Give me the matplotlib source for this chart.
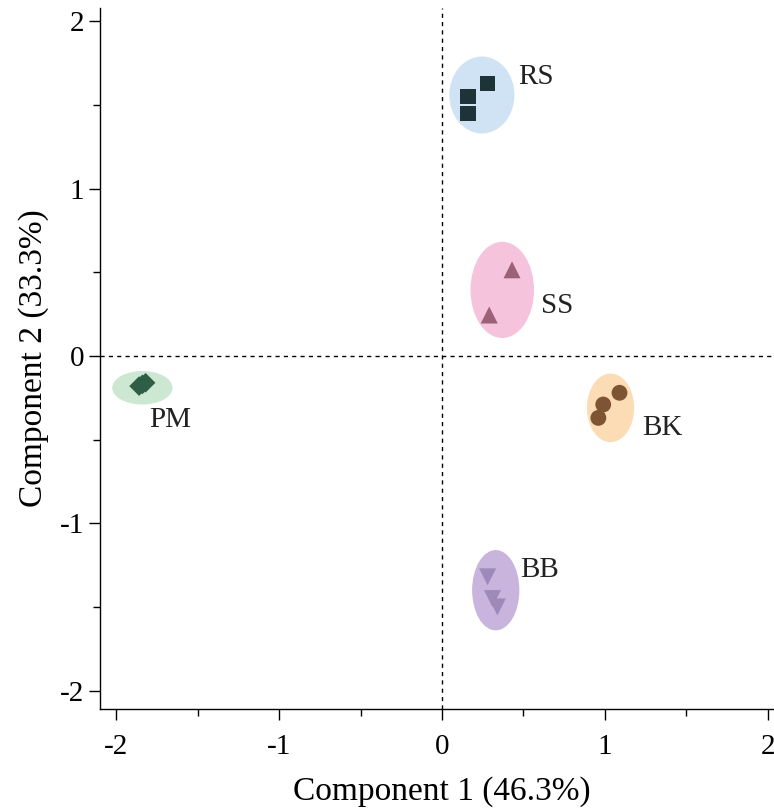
import numpy as np
import matplotlib
matplotlib.use("Agg")
import matplotlib.pyplot as plt
from matplotlib.patches import Ellipse
from matplotlib.ticker import MultipleLocator, FuncFormatter

plt.rcParams["font.family"] = ["Liberation Serif", "DejaVu Serif"]

# PCA scores per group
groups = ["RS", "SS", "PM", "BK", "BB"]
rs_x = [0.16, 0.16, 0.28]
rs_y = [1.55, 1.45, 1.63]
ss_x = [0.43, 0.29]
ss_y = [0.515, 0.245]
pm_x = [-1.82, -1.86, -1.84]
pm_y = [-0.16, -0.18, -0.17]
bk_x = [1.09, 0.99, 0.96]
bk_y = [-0.22, -0.29, -0.37]
bb_x = [0.28, 0.31, 0.34]
bb_y = [-1.32, -1.45, -1.50]

# confidence ellipses: centre x, centre y, width, height
ell_cx = [0.245, 0.37, -1.84, 1.035, 0.33]
ell_cy = [1.56, 0.395, -0.19, -0.31, -1.40]
ell_w = [0.40, 0.39, 0.37, 0.29, 0.29]
ell_h = [0.46, 0.575, 0.20, 0.41, 0.48]

label_x = [0.47, 0.605, -1.80, 1.23, 0.48]
label_y = [1.665, 0.30, -0.38, -0.43, -1.28]

xs = [rs_x, ss_x, pm_x, bk_x, bb_x]
ys = [rs_y, ss_y, pm_y, bk_y, bb_y]
markers = ["s", "^", "D", "o", "v"]
sizes = [120, 150, 100, 130, 150]
point_colors = ["#1c3438", "#9c6079", "#2f5e46", "#7d5535", "#9d8ab8"]
fill_colors = ["#cfe3f5", "#f5c4dc", "#cde8d2", "#fbdcb5", "#c8b4dc"]

fig = plt.figure(figsize=(7.74, 8.09), dpi=100)
ax = fig.add_axes([100 / 774, 100 / 809, 684 / 774, 701 / 809])

for i, g in enumerate(groups):
    ax.add_patch(Ellipse((ell_cx[i], ell_cy[i]), ell_w[i], ell_h[i],
                         facecolor=fill_colors[i], edgecolor="none", zorder=1))
    ax.scatter(xs[i], ys[i], marker=markers[i], s=sizes[i], color=point_colors[i],
               edgecolors="none", zorder=3)
    ax.text(label_x[i], label_y[i], g, fontsize=21, ha="left", va="center",
            color="#222222", zorder=4)

ax.axhline(0, color="black", lw=1, ls=(0, (3, 3)), zorder=2)
ax.axvline(0, color="black", lw=1, ls=(0, (3, 3)), zorder=2)

ax.set_xlim(-2.1, 2.1)
ax.set_ylim(-2.11, 2.08)
ax.xaxis.set_major_locator(MultipleLocator(1))
ax.xaxis.set_minor_locator(MultipleLocator(0.5))
ax.yaxis.set_major_locator(MultipleLocator(1))
ax.yaxis.set_minor_locator(MultipleLocator(0.5))
ax.tick_params(which="major", direction="out", length=8, width=1, labelsize=21)
ax.tick_params(which="minor", direction="out", length=5, width=1)
ax.tick_params(axis="x", pad=10)
ax.xaxis.set_major_formatter(FuncFormatter(lambda v, p: f"{v:g}"))
ax.yaxis.set_major_formatter(FuncFormatter(lambda v, p: f"{v:g}"))

for side in ["top", "right"]:
    ax.spines[side].set_visible(False)
for side in ["left", "bottom"]:
    ax.spines[side].set_linewidth(1)

ax.set_xlabel("Component 1 (46.3%)", fontsize=24, labelpad=12)
ax.set_ylabel("Component 2 (33.3%)", fontsize=24, labelpad=8)

fig.savefig("out.png", dpi=100)
